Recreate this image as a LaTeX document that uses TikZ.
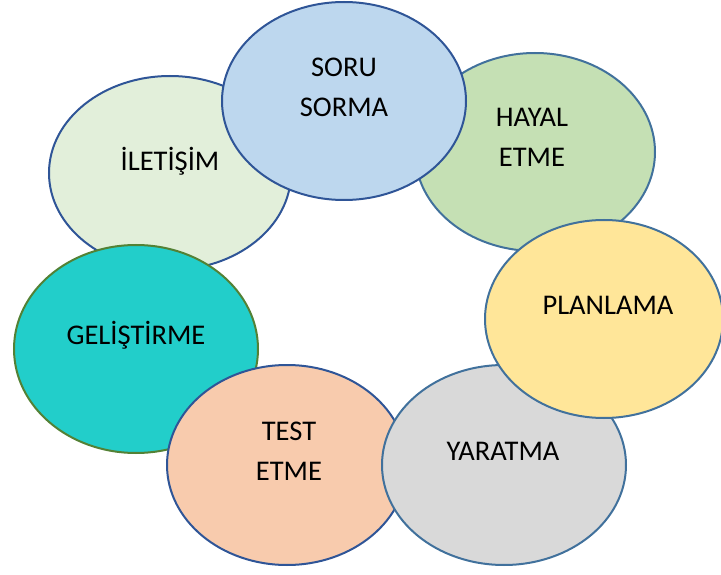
\documentclass[tikz,border=0pt]{standalone}
\usepackage{fontspec}
\setmainfont{Carlito}
\usetikzlibrary{calc}

\definecolor{darkline}{HTML}{2F5597}
\definecolor{midline}{HTML}{41719C}
\definecolor{greenline}{HTML}{538135}
\definecolor{soruFill}{HTML}{BDD7EE}
\definecolor{hayalFill}{HTML}{C5E0B4}
\definecolor{planFill}{HTML}{FFE699}
\definecolor{yaratFill}{HTML}{D9D9D9}
\definecolor{testFill}{HTML}{F8CBAD}
\definecolor{gelisFill}{HTML}{22CECA}
\definecolor{iletFill}{HTML}{E2EFDA}

\begin{document}
\begin{tikzpicture}[x=1pt,y=-1pt,
  bubble/.style={line width=2pt},
  word/.style={font=\fontsize{28.5}{40}\selectfont,align=center,inner sep=0pt}]
\useasboundingbox (0,0) rectangle (721,575);
% back row first
\filldraw[bubble,fill=iletFill,draw=darkline] (170,173) ellipse [x radius=121,y radius=97];
\filldraw[bubble,fill=hayalFill,draw=midline] (535,152) ellipse [x radius=120,y radius=99];
\filldraw[bubble,fill=soruFill,draw=darkline] (344,101) ellipse [x radius=122,y radius=99];
\filldraw[bubble,fill=gelisFill,draw=greenline] (136,349) ellipse [x radius=122,y radius=104];
\filldraw[bubble,fill=testFill,draw=darkline] (287,465) ellipse [x radius=120,y radius=100];
\filldraw[bubble,fill=yaratFill,draw=midline] (504,465) ellipse [x radius=122,y radius=100];
\filldraw[bubble,fill=planFill,draw=midline] (604,319) ellipse [x radius=119,y radius=99];
% labels
\node[word] (soru) at (344,87) {SORU\\SORMA};
\node[word] (hayal) at (532,137) {HAYAL\\ETME};
\node[word] (ilet) at (170,161) {İLETİŞİM};
\node[word] (plan) at (608,305) {PLANLAMA};
\node[word] (gelis) at (136,335) {GELİŞTİRME};
\node[word] (test) at (289,451) {TEST\\ETME};
\node[word] (yarat) at (503,451) {YARATMA};
\end{tikzpicture}
\end{document}
